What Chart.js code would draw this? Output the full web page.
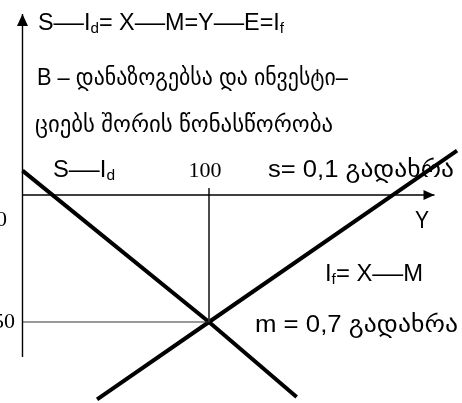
<!DOCTYPE html>
<html>
<head>
<meta charset="utf-8">
<script src="https://cdn.jsdelivr.net/npm/chart.js@4.4.0/dist/chart.umd.min.js"></script>
<style>
html, body { margin: 0; padding: 0; background: #fff; }
#wrap { position: relative; width: 462px; height: 403px; }
</style>
</head>
<body>
<div id="wrap"><canvas id="c"></canvas></div>
<script>
// S—Id (falling) and If = X—M (rising), crossing at Y = 100
const sIdX = [0, 100, 147];
const sIdY = [9.6, -50, -79.5];
const ifX = [40, 100, 233];
const ifY = [-80.5, -50, 17.5];

// equilibrium guide lines
const eqX = 100;
const eqY = -50;
const guideTop = 2.7;

// axes
const yAxisFrom = -63.8;
const yAxisTo = 71.3;
const xAxisTo = 220.9;

// tick labels
const xTickValues = [100];
const xTickLabels = ['100'];
const yTickValues = [-10, -50];
const yTickLabels = ['0', '50'];

const SANS = '"Liberation Sans", Arial, "DejaVu Sans", sans-serif';
const SERIF = '"Liberation Serif", "Times New Roman", serif';

function pts(xs, ys) { return xs.map((v, i) => ({ x: v, y: ys[i] })); }

// '_' makes the next char a subscript, '—' is drawn a bit wider
function rich(ctx, str, x, base, size, family, endX) {
  const segs = [];
  for (let i = 0; i < str.length; i++) {
    if (str[i] === '_') segs.push({ t: str[++i], sub: true });
    else segs.push({ t: str[i], sub: false });
  }
  const main = size + 'px ' + family;
  const small = Math.round(size * 0.64) + 'px ' + family;
  let w = 0;
  segs.forEach(s => {
    ctx.font = s.sub ? small : main;
    s.w = ctx.measureText(s.t).width * (s.t === '—' ? 1.3 : 1);
    w += s.w;
  });
  const k = endX ? (endX - x) / w : 1;
  ctx.save();
  ctx.translate(x, base);
  ctx.scale(k, 1);
  let cx = 0;
  segs.forEach(s => {
    ctx.font = s.sub ? small : main;
    if (s.t === '—') {
      ctx.save(); ctx.translate(cx, 0); ctx.scale(1.3, 1); ctx.fillText(s.t, 0, 0); ctx.restore();
    } else {
      ctx.fillText(s.t, cx, s.sub ? size * 0.12 : 0);
    }
    cx += s.w;
  });
  ctx.restore();
}

function arrow(ctx, px, py, dir) {
  ctx.beginPath();
  if (dir === 'up') {
    ctx.moveTo(px, py); ctx.lineTo(px - 5.5, py + 12); ctx.lineTo(px + 5.5, py + 12);
  } else {
    ctx.moveTo(px, py); ctx.lineTo(px - 11, py - 5); ctx.lineTo(px - 11, py + 5);
  }
  ctx.closePath();
  ctx.fill();
}

const extras = {
  id: 'extras',
  afterDatasetsDraw(chart) {
    const { ctx, scales: { x, y } } = chart;
    ctx.save();
    ctx.fillStyle = '#000';
    arrow(ctx, x.getPixelForValue(0), y.getPixelForValue(yAxisTo), 'up');
    arrow(ctx, x.getPixelForValue(xAxisTo), y.getPixelForValue(0), 'right');

    ctx.textBaseline = 'middle';
    ctx.font = '22px ' + SERIF;
    ctx.textAlign = 'center';
    xTickValues.forEach((v, i) => ctx.fillText(xTickLabels[i], x.getPixelForValue(v) - 4, y.getPixelForValue(0) - 24));
    ctx.textAlign = 'right';
    ctx.fillText(yTickLabels[0], 7, y.getPixelForValue(yTickValues[0]));
    ctx.fillText(yTickLabels[1], 15, y.getPixelForValue(yTickValues[1]));

    ctx.textBaseline = 'alphabetic';
    ctx.textAlign = 'left';
    rich(ctx, 'S—I_d= X—M=Y—E=I_f', 38, 30, 23, SANS, 284);
    rich(ctx, 'B – დანაზოგებსა და ინვესტი–', 37, 85, 23, SANS, 348);
    rich(ctx, 'ციებს შორის წონასწორობა', 35, 132, 23, SANS, 333);
    rich(ctx, 'S—I_d', 53, 177, 23, SANS, 115);
    rich(ctx, 's= 0,1 გადახრა', 268, 177, 23, SANS, 454);
    rich(ctx, 'Y', 415, 228, 23, SANS, 429);
    rich(ctx, 'I_f= X—M', 325, 281, 23, SANS, 423);
    rich(ctx, 'm = 0,7 გადახრა', 255, 332, 23, SANS, 458);
    ctx.restore();
  }
};

const line = (data, width, color) => ({
  data, showLine: true, borderColor: color, borderWidth: width,
  pointRadius: 0, fill: false, tension: 0
});

new Chart(document.getElementById('c'), {
  type: 'scatter',
  data: {
    datasets: [
      line(pts([0, 0], [yAxisFrom, yAxisTo]), 1.4, '#000'),
      line(pts([0, xAxisTo], [0, 0]), 1.4, '#000'),
      line(pts([eqX, eqX], [guideTop, eqY]), 1, '#333'),
      line(pts([0, eqX], [eqY, eqY]), 1, '#333'),
      line(pts(sIdX, sIdY), 4, '#000'),
      line(pts(ifX, ifY), 4, '#000')
    ]
  },
  options: {
    responsive: true,
    maintainAspectRatio: false,
    animation: false,
    layout: { padding: 0 },
    plugins: { legend: { display: false }, tooltip: { enabled: false } },
    scales: {
      x: { type: 'linear', display: false, min: -12.06, max: 235.66 },
      y: { type: 'linear', display: false, min: -81.89, max: 76.77 }
    }
  },
  plugins: [extras]
});
</script>
</body>
</html>
